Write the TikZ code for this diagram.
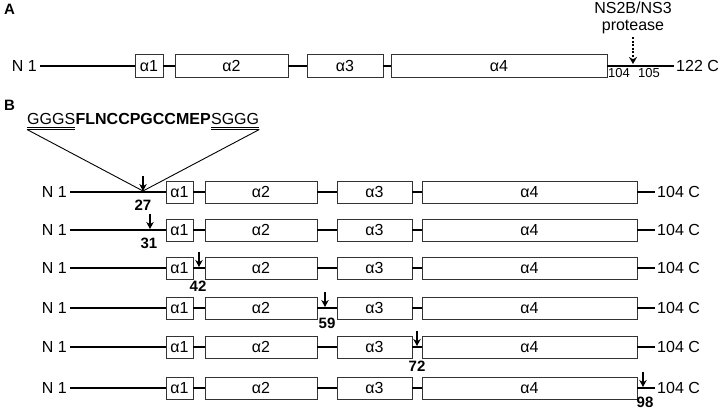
\documentclass[tikz,border=0pt]{standalone}
\usepackage{fontspec}
\setmainfont{Liberation Sans}
\usetikzlibrary{arrows.meta}
\begin{document}
\begin{tikzpicture}[x=1pt,y=-1pt,
  box/.style={draw=black!80,line width=0.9pt,fill=white,inner sep=0pt,font=\fontsize{16}{18}\selectfont},
  ln/.style={line width=1.8pt},
  lbl/.style={font=\fontsize{16}{18}\selectfont,inner sep=0pt},
  small/.style={font=\fontsize{13}{15}\selectfont,inner sep=0pt},
  num/.style={font=\bfseries\fontsize{15}{17}\selectfont,inner sep=0pt},
  panel/.style={font=\bfseries\fontsize{15}{17}\selectfont,inner sep=0pt,anchor=base west},
  arr/.style={-{Stealth[length=7pt,width=7.5pt]},line width=1.3pt},
  thin/.style={line width=0.9pt},
]
\useasboundingbox (0,0) rectangle (720,411);

% ---------- Panel A ----------
\node[panel] (pA) at (4,15) {A};
\node[lbl,anchor=east] (nA) at (37,66) {N 1};
\node[box,minimum width=28pt,minimum height=23pt] (a1A) at (149,66) {α1};
\node[box,minimum width=113pt,minimum height=23pt] (a2A) at (231.5,66) {α2};
\node[box,minimum width=76pt,minimum height=23pt] (a3A) at (345,66) {α3};
\node[box,minimum width=216pt,minimum height=23pt] (a4A) at (499,66) {α4};
\node[lbl,anchor=west] (cA) at (676,66) {122 C};
\draw[ln] ([xshift=3pt]nA.east) -- (a1A.west);
\draw[ln] (a1A.east) -- (a2A.west);
\draw[ln] (a2A.east) -- (a3A.west);
\draw[ln] (a3A.east) -- (a4A.west);
\draw[ln] (a4A.east) -- ([xshift=-2pt]cA.west);
\node[small,anchor=base] (s104) at (619,78) {104};
\node[small,anchor=base] (s105) at (649,78) {105};
\node[lbl,anchor=base] (ns) at (633,14) {NS2B/NS3};
\node[lbl,anchor=base] (prot) at (633,31) {protease};
\coordinate (pt) at (633,37);
\coordinate (pb) at (633,64);
\draw[line width=1.8pt,dash pattern=on 2pt off 1.6pt,-{Stealth[length=7pt,width=8pt]}] (pt) -- (pb);

% ---------- Panel B ----------
\node[panel] (pB) at (4,111) {B};
\node[lbl,anchor=base west] (g1) at (27,125) {GGGS};
\node[lbl,anchor=base west,font=\bfseries\fontsize{16}{18}\selectfont] (mid) at (g1.base east) {FLNCCPGCCMEP};
\node[lbl,anchor=base west] (g2) at (mid.base east) {SGGG};
\draw[thin] ([yshift=-2pt]g1.base west) -- ([yshift=-2pt]g1.base east);
\draw[thin] ([yshift=-4.5pt]g1.base west) -- ([yshift=-4.5pt]g1.base east);
\draw[thin] ([yshift=-2pt]g2.base west) -- ([yshift=-2pt]g2.base east);
\draw[thin] ([yshift=-4.5pt]g2.base west) -- ([yshift=-4.5pt]g2.base east);
\coordinate (apex) at (143,191);
\draw[thin] ([yshift=-4.5pt]g1.base west) -- (apex);
\draw[thin] ([yshift=-4.5pt]g2.base east) -- (apex);

\foreach \i/\y in {1/192,2/230,3/268,4/308,5/347,6/388}{
  \node[lbl,anchor=east] (n\i) at (67,\y) {N 1};
  \node[box,minimum width=27pt,minimum height=22pt] (b1\i) at (179.5,\y) {α1};
  \node[box,minimum width=112pt,minimum height=22pt] (b2\i) at (261,\y) {α2};
  \node[box,minimum width=75pt,minimum height=22pt] (b3\i) at (374.5,\y) {α3};
  \node[box,minimum width=215pt,minimum height=22pt] (b4\i) at (529.5,\y) {α4};
  \node[lbl,anchor=west] (c\i) at (657,\y) {104 C};
  \draw[ln] ([xshift=3pt]n\i.east) -- (b1\i.west);
  \draw[ln] (b1\i.east) -- (b2\i.west);
  \draw[ln] (b2\i.east) -- (b3\i.west);
  \draw[ln] (b3\i.east) -- (b4\i.west);
  \draw[ln] (b4\i.east) -- ([xshift=-2pt]c\i.west);
}

\foreach \i/\x/\y/\lx/\ly/\t in {1/143/192/143/205/27,2/150/230/149/243/31,3/199/268/198/286/42,4/325/308/327/323/59,5/417/347/417/366/72,6/643/388/645/402/98}{
  \coordinate (at\i) at (\x,\y-16);
  \coordinate (ab\i) at (\x,\y-1);
  \draw[arr] (at\i) -- (ab\i);
  \node[num] (l\i) at (\lx,\ly) {\t};
}
\end{tikzpicture}
\end{document}
